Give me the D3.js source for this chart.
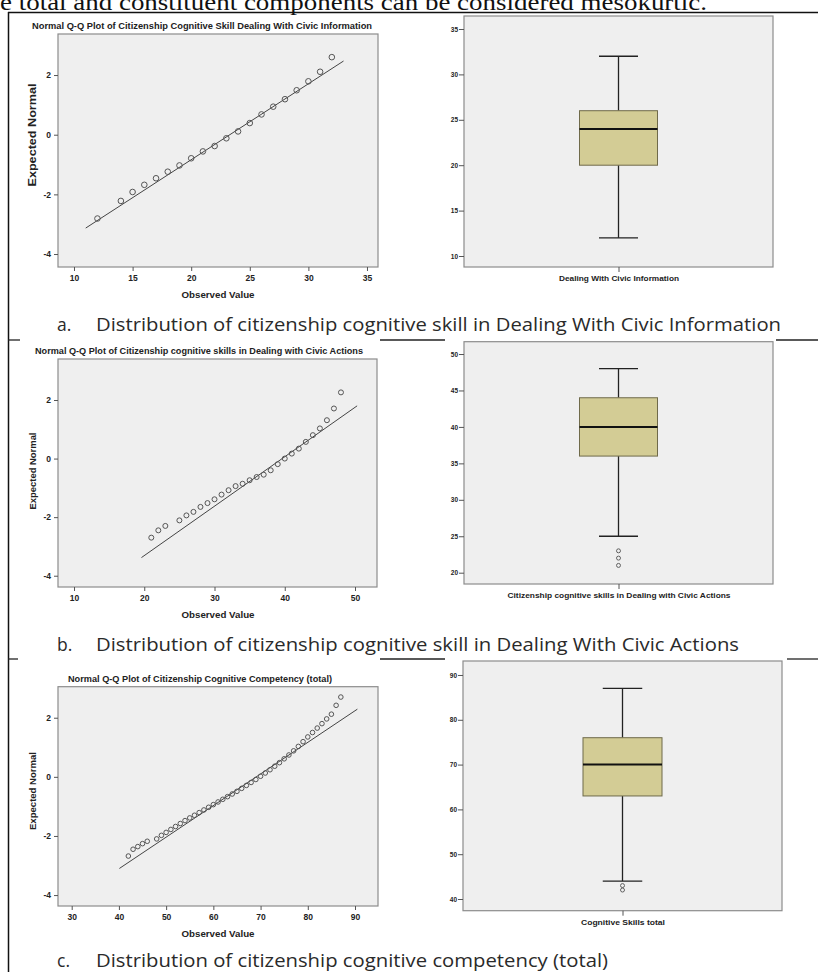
<!DOCTYPE html>
<html>
<head>
<meta charset="utf-8">
<script src="https://cdn.jsdelivr.net/npm/d3@7"></script>
<style>
body { margin: 0; background: #fff; }
svg text { font-family: "Liberation Sans", Arial, sans-serif; }
</style>
</head>
<body>
<div id="chart"></div>
<script>
// ---- data ----
var introText = 'e total and constituent components can be considered mesokurtic.';

// a. Dealing With Civic Information
var qqA_observed = [12, 14, 15, 16, 17, 18, 19, 20, 21, 22, 23, 24, 25, 26, 27, 28, 29, 30, 31, 32];
var qqA_expected = [-2.81, -2.22, -1.92, -1.68, -1.46, -1.24, -1.03, -0.79, -0.56, -0.38, -0.12, 0.11, 0.39, 0.68, 0.94, 1.19, 1.49, 1.79, 2.11, 2.60];
var qqA_lineObserved = [11, 33];
var qqA_lineExpected = [-3.13, 2.47];
var qqA_xTicks = [10, 15, 20, 25, 30, 35];
var qqA_yTicks = [2, 0, -2, -4];
var boxA_stats = [12, 20, 24, 26, 32];   // min, q1, median, q3, max
var boxA_outliers = [];
var boxA_ticks = [10, 15, 20, 25, 30, 35];

// b. Dealing With Civic Actions
var qqB_observed = [21, 22, 23, 25, 26, 27, 28, 29, 30, 31, 32, 33, 34, 35, 36, 37, 38, 39, 40, 41, 42, 43, 44, 45, 46, 47, 48];
var qqB_expected = [-2.70, -2.45, -2.30, -2.11, -1.94, -1.82, -1.65, -1.52, -1.39, -1.23, -1.08, -0.94, -0.86, -0.74, -0.63, -0.55, -0.40, -0.19, 0.00, 0.17, 0.34, 0.57, 0.80, 1.03, 1.31, 1.71, 2.26];
var qqB_lineObserved = [19.6, 50.3];
var qqB_lineExpected = [-3.38, 1.80];
var qqB_xTicks = [10, 20, 30, 40, 50];
var qqB_yTicks = [2, 0, -2, -4];
var boxB_stats = [25, 36, 40, 44, 48];
var boxB_outliers = [23, 22, 21];
var boxB_ticks = [20, 25, 30, 35, 40, 45, 50];

// c. Cognitive competency (total)
var qqC_observed = [42, 43, 44, 45, 46, 48, 49, 50, 51, 52, 53, 54, 55, 56, 57, 58, 59, 60, 61, 62, 63, 64, 65, 66, 67, 68, 69, 70, 71, 72, 73, 74, 75, 76, 77, 78, 79, 80, 81, 82, 83, 84, 85, 86, 87];
var qqC_expected = [-2.68, -2.45, -2.36, -2.26, -2.18, -2.10, -1.98, -1.88, -1.78, -1.68, -1.58, -1.48, -1.39, -1.30, -1.21, -1.12, -1.03, -0.94, -0.85, -0.76, -0.67, -0.58, -0.49, -0.39, -0.29, -0.19, -0.09, 0.02, 0.13, 0.24, 0.36, 0.48, 0.61, 0.74, 0.88, 1.03, 1.19, 1.35, 1.50, 1.65, 1.80, 1.96, 2.12, 2.42, 2.70];
var qqC_lineObserved = [40.1, 90.5];
var qqC_lineExpected = [-3.10, 2.29];
var qqC_xTicks = [30, 40, 50, 60, 70, 80, 90];
var qqC_yTicks = [2, 0, -2, -4];
var boxC_stats = [44, 63, 70, 76, 87];
var boxC_outliers = [43, 42];
var boxC_ticks = [40, 50, 60, 70, 80, 90];

var qqTitles = [
    'Normal Q-Q Plot of Citizenship Cognitive Skill Dealing With Civic Information',
    'Normal Q-Q Plot of Citizenship cognitive skills in Dealing with Civic Actions',
    'Normal Q-Q Plot of Citizenship Cognitive Competency (total)'
];
var boxLabels = [
    'Dealing With Civic Information',
    'Citizenship cognitive skills in Dealing with Civic Actions',
    'Cognitive Skills total'
];
var captionLetters = ['a.', 'b.', 'c.'];
var captions = [
    'Distribution of citizenship cognitive skill in Dealing With Civic Information',
    'Distribution of citizenship cognitive skill in Dealing With Civic Actions',
    'Distribution of citizenship cognitive competency (total)'
];

// ---- drawing ----
var svg = d3.select('#chart').append('svg')
    .attr('width', 818)
    .attr('height', 972);

var plotBg = '#efefef';
var frameColor = '#8c8c8c';
var boxFill = '#d3cc95';

// page furniture: intro sentence (cut at the top like the scan), rules, left border
svg.append('text')
    .attr('x', 0).attr('y', 10)
    .attr('textLength', 707)
    .attr('lengthAdjust', 'spacingAndGlyphs')
    .style('font-family', '"Liberation Serif", "Times New Roman", serif')
    .style('font-size', '23px')
    .attr('fill', '#111')
    .text(introText);
svg.append('line').attr('x1', 8).attr('x2', 818).attr('y1', 12.5).attr('y2', 12.5)
    .attr('stroke', '#111').attr('stroke-width', 1.5);
svg.append('line').attr('x1', 8.5).attr('x2', 8.5).attr('y1', 12).attr('y2', 972)
    .attr('stroke', '#111').attr('stroke-width', 1.5);

var ruleSegments = [
    [340, 8, 20], [340, 380, 445], [340, 776, 818],
    [659, 8, 18], [659, 380, 445], [659, 787, 818]
];
svg.selectAll('.rule').data(ruleSegments).enter().append('line')
    .attr('class', 'rule')
    .attr('x1', d => d[1]).attr('x2', d => d[2])
    .attr('y1', d => d[0]).attr('y2', d => d[0])
    .attr('stroke', '#222').attr('stroke-width', 1.3);

function styleAxis(g, size) {
    g.select('.domain').remove();
    g.selectAll('line').attr('stroke', '#555');
    g.selectAll('text')
        .style('font-size', size + 'px')
        .style('font-weight', 'bold')
        .attr('fill', '#222');
}

function drawQQ(p) {
    var x = d3.scaleLinear().domain(p.xDomain).range([p.left, p.right]);
    var y = d3.scaleLinear().domain(p.yDomain).range([p.bottom, p.top]);

    svg.append('rect')
        .attr('x', p.left).attr('y', p.top)
        .attr('width', p.right - p.left).attr('height', p.bottom - p.top)
        .attr('fill', plotBg).attr('stroke', frameColor).attr('stroke-width', 1.2);

    svg.append('g')
        .attr('transform', `translate(0,${p.bottom})`)
        .call(d3.axisBottom(x).tickValues(p.xTicks).tickSize(4).tickPadding(4).tickFormat(d => String(d)))
        .call(g => styleAxis(g, 8.5));

    svg.append('g')
        .attr('transform', `translate(${p.left},0)`)
        .call(d3.axisLeft(y).tickValues(p.yTicks).tickSize(4).tickPadding(3).tickFormat(d => String(d)))
        .call(g => styleAxis(g, 8.5));

    svg.append('line')
        .attr('x1', x(p.lineObs[0])).attr('y1', y(p.lineExp[0]))
        .attr('x2', x(p.lineObs[1])).attr('y2', y(p.lineExp[1]))
        .attr('stroke', '#444').attr('stroke-width', 1);

    svg.append('g').selectAll('circle')
        .data(p.observed)
        .enter()
        .append('circle')
        .attr('cx', d => x(d))
        .attr('cy', (d, i) => y(p.expected[i]))
        .attr('r', p.r)
        .attr('fill', 'none')
        .attr('stroke', '#555')
        .attr('stroke-width', 1);

    svg.append('text')
        .attr('x', p.titleX).attr('y', p.top - 5)
        .attr('text-anchor', 'middle')
        .attr('textLength', p.titleLen)
        .attr('lengthAdjust', 'spacingAndGlyphs')
        .style('font-size', '8.5px').style('font-weight', 'bold')
        .attr('fill', '#222')
        .text(p.title);

    svg.append('text')
        .attr('x', 218).attr('y', p.bottom + 31)
        .attr('text-anchor', 'middle')
        .attr('textLength', 73)
        .attr('lengthAdjust', 'spacingAndGlyphs')
        .style('font-size', '8.5px').style('font-weight', 'bold')
        .attr('fill', '#222')
        .text('Observed Value');

    svg.append('text')
        .attr('transform', `translate(36,${p.yLabelY}) rotate(-90)`)
        .attr('text-anchor', 'middle')
        .attr('textLength', p.yLabelLen)
        .attr('lengthAdjust', 'spacingAndGlyphs')
        .style('font-size', p.yLabelSize + 'px').style('font-weight', 'bold')
        .attr('fill', '#222')
        .text('Expected Normal');
}

function drawBox(p) {
    var y = d3.scaleLinear().domain(p.yDomain).range([p.bottom, p.top]);
    var x = d3.scalePoint().domain([p.label]).range([p.left, p.right]).padding(0.5);
    var cx = x(p.label);
    var s = p.stats;

    svg.append('rect')
        .attr('x', p.left).attr('y', p.top)
        .attr('width', p.right - p.left).attr('height', p.bottom - p.top)
        .attr('fill', plotBg).attr('stroke', frameColor).attr('stroke-width', 1.2);

    svg.append('g')
        .attr('transform', `translate(${p.left},0)`)
        .call(d3.axisLeft(y).tickValues(p.ticks).tickSize(5).tickPadding(1).tickFormat(d => String(d)))
        .call(g => styleAxis(g, 6.5));

    var xa = svg.append('g')
        .attr('transform', `translate(0,${p.bottom})`)
        .call(d3.axisBottom(x).tickSize(5).tickPadding(4))
        .call(g => styleAxis(g, 7));
    xa.selectAll('text')
        .attr('textLength', p.labelLen)
        .attr('lengthAdjust', 'spacingAndGlyphs');

    // whiskers
    svg.append('line').attr('x1', cx).attr('x2', cx).attr('y1', y(s[4])).attr('y2', y(s[3]))
        .attr('stroke', '#222').attr('stroke-width', 1.3);
    svg.append('line').attr('x1', cx).attr('x2', cx).attr('y1', y(s[1])).attr('y2', y(s[0]))
        .attr('stroke', '#222').attr('stroke-width', 1.3);
    svg.selectAll(null).data([s[0], s[4]]).enter().append('line')
        .attr('x1', cx - p.boxW / 4).attr('x2', cx + p.boxW / 4)
        .attr('y1', d => y(d)).attr('y2', d => y(d))
        .attr('stroke', '#222').attr('stroke-width', 1.3);

    svg.append('rect')
        .attr('x', cx - p.boxW / 2).attr('y', y(s[3]))
        .attr('width', p.boxW).attr('height', y(s[1]) - y(s[3]))
        .attr('fill', boxFill).attr('stroke', '#6f6a4a').attr('stroke-width', 1);

    svg.append('line')
        .attr('x1', cx - p.boxW / 2).attr('x2', cx + p.boxW / 2)
        .attr('y1', y(s[2])).attr('y2', y(s[2]))
        .attr('stroke', '#111').attr('stroke-width', 2);

    svg.append('g').selectAll('circle')
        .data(p.outliers)
        .enter()
        .append('circle')
        .attr('cx', cx).attr('cy', d => y(d))
        .attr('r', 2)
        .attr('fill', 'none').attr('stroke', '#555').attr('stroke-width', 0.9);
}

function drawCaption(i, baseline, len) {
    svg.append('text')
        .attr('x', 57).attr('y', baseline)
        .style('font-family', '"Open Sans", "Noto Sans", sans-serif')
        .style('font-size', '17.5px')
        .attr('fill', '#2a2a2a')
        .text(captionLetters[i]);
    svg.append('text')
        .attr('x', 96).attr('y', baseline)
        .attr('textLength', len)
        .attr('lengthAdjust', 'spacingAndGlyphs')
        .style('font-family', '"Open Sans", "Noto Sans", sans-serif')
        .style('font-size', '17.5px')
        .attr('fill', '#2a2a2a')
        .text(captions[i]);
}

// panel a
drawQQ({
    left: 58, right: 378, top: 34, bottom: 267,
    xDomain: [8.635, 35.94], yDomain: [-4.435, 3.376],
    xTicks: qqA_xTicks, yTicks: qqA_yTicks,
    observed: qqA_observed, expected: qqA_expected,
    lineObs: qqA_lineObserved, lineExp: qqA_lineExpected,
    r: 2.8, title: qqTitles[0], titleX: 202, titleLen: 340,
    yLabelY: 135, yLabelLen: 103, yLabelSize: 10
});
drawBox({
    left: 464, right: 773, top: 16, bottom: 267,
    yDomain: [8.79, 36.43], ticks: boxA_ticks,
    stats: boxA_stats, outliers: boxA_outliers,
    label: boxLabels[0], labelLen: 120, boxW: 78
});
drawCaption(0, 331, 685);

// panel b
drawQQ({
    left: 58, right: 377, top: 359, bottom: 587,
    xDomain: [7.72, 53.13], yDomain: [-4.385, 3.40],
    xTicks: qqB_xTicks, yTicks: qqB_yTicks,
    observed: qqB_observed, expected: qqB_expected,
    lineObs: qqB_lineObserved, lineExp: qqB_lineExpected,
    r: 2.5, title: qqTitles[1], titleX: 199, titleLen: 328,
    yLabelY: 471, yLabelLen: 77, yLabelSize: 8.5
});
drawBox({
    left: 464, right: 773, top: 341.7, bottom: 584,
    yDomain: [18.45, 51.69], ticks: boxB_ticks,
    stats: boxB_stats, outliers: boxB_outliers,
    label: boxLabels[1], labelLen: 223, boxW: 78
});
drawCaption(1, 651, 643);

// panel c
drawQQ({
    left: 58, right: 378, top: 686.7, bottom: 906,
    xDomain: [27.1, 94.87], yDomain: [-4.37, 3.05],
    xTicks: qqC_xTicks, yTicks: qqC_yTicks,
    observed: qqC_observed, expected: qqC_expected,
    lineObs: qqC_lineObserved, lineExp: qqC_lineExpected,
    r: 2.3, title: qqTitles[2], titleX: 200, titleLen: 264,
    yLabelY: 791, yLabelLen: 78, yLabelSize: 8.5
});
drawBox({
    left: 463, right: 782, top: 661, bottom: 910.7,
    yDomain: [37.39, 93.12], ticks: boxC_ticks,
    stats: boxC_stats, outliers: boxC_outliers,
    label: boxLabels[2], labelLen: 84, boxW: 79
});
drawCaption(2, 967, 512);
</script>
</body>
</html>
